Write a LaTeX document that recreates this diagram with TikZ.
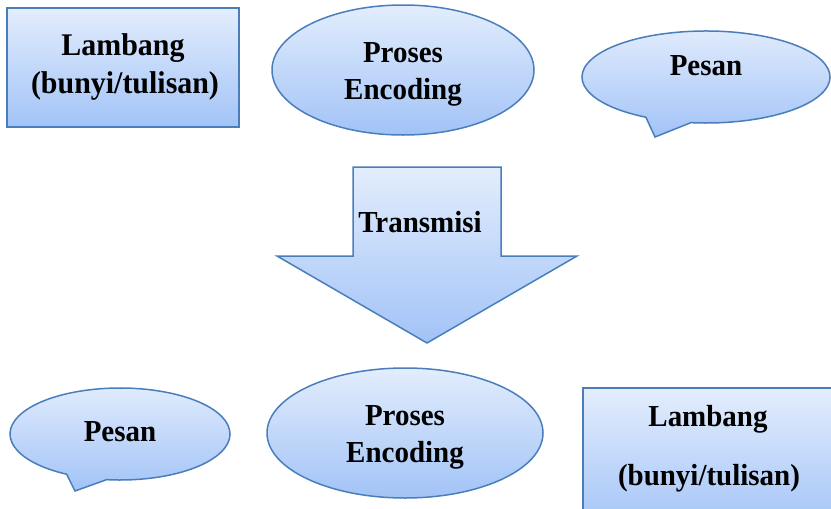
\documentclass[tikz,border=0pt]{standalone}
\usepackage{fontspec}
\setmainfont{Liberation Serif}[FakeStretch=0.95]
\usetikzlibrary{shapes.geometric}
\definecolor{edgeblue}{RGB}{74,126,187}
\definecolor{filltop}{RGB}{227,237,253}
\definecolor{fillbot}{RGB}{162,195,247}
\tikzset{
  blueshape/.style={draw=edgeblue, line width=1.5pt, top color=filltop, bottom color=fillbot},
  boxshape/.style={blueshape, rectangle, inner sep=0pt},
  ovalshape/.style={blueshape, ellipse, inner sep=0pt},
  lbl/.style={anchor=base, inner sep=0pt, font=\fontsize{30.5}{36}\selectfont\bfseries},
  lblbig/.style={lbl, font=\fontsize{31.5}{38}\selectfont\bfseries}
}
\begin{document}
\begin{tikzpicture}[x=1pt, y=-1pt]
\useasboundingbox (0,0) rectangle (831,509);
\clip (0,0) rectangle (831,509);

% top left box
\node[boxshape, minimum width=232pt, minimum height=119pt] (tl) at (123,67.5) {};
\node[lblbig] (tlA) at (123,55) {Lambang};
\node[lblbig] (tlB) at (125,93) {(bunyi/tulisan)};

% top ellipse
\node[ovalshape, minimum width=262pt, minimum height=130pt] (enc1) at (403,70) {};
\node[lbl] (enc1A) at (403,62) {Proses};
\node[lbl] (enc1B) at (403,99) {Encoding};

% top right callout
\shade[blueshape] (706,77) ++(119:124 and 46)
  arc[start angle=119, end angle=457, x radius=124, y radius=46]
  -- (655,137) -- cycle;
\node[lbl] (pes1) at (706,75) {Pesan};

% arrow
\shade[blueshape] (353,167) -- (501,167) -- (501,256) -- (577,256)
  -- (427,343) -- (277,256) -- (353,256) -- cycle;
\node[lbl] (trans) at (420,232) {Transmisi};

% bottom left callout
\shade[blueshape] (120,434) ++(119:110 and 46)
  arc[start angle=119, end angle=457, x radius=110, y radius=46]
  -- (75,491) -- cycle;
\node[lbl] (pes2) at (120,441) {Pesan};

% bottom ellipse
\node[ovalshape, minimum width=276pt, minimum height=130pt] (enc2) at (405,433) {};
\node[lbl] (enc2A) at (405,425) {Proses};
\node[lbl] (enc2B) at (405,462) {Encoding};

% bottom right box
\node[boxshape, minimum width=267pt, minimum height=142pt] (br) at (716.5,459) {};
\node[lbl] (brA) at (708,426) {Lambang};
\node[lbl] (brB) at (709,485) {(bunyi/tulisan)};
\end{tikzpicture}
\end{document}
